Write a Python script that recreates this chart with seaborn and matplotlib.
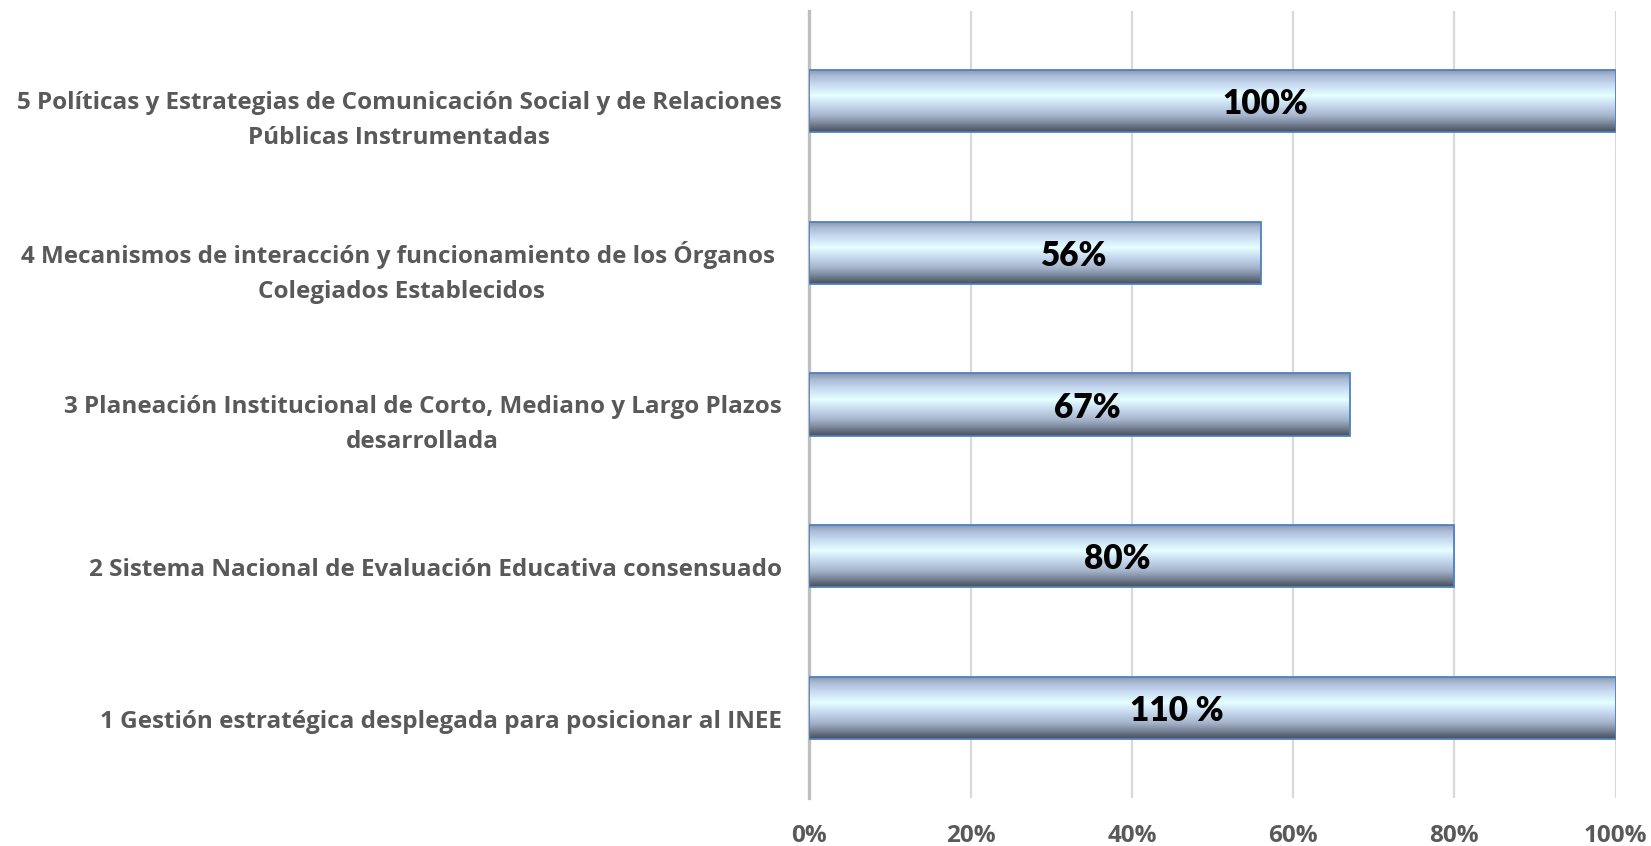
import numpy as np
import pandas as pd
import matplotlib
matplotlib.use("Agg")
import matplotlib.pyplot as plt
import seaborn as sns
from matplotlib.colors import LinearSegmentedColormap
from matplotlib.transforms import ScaledTranslation

# data, top to bottom as drawn
categories = [
    "5 Políticas y Estrategias de Comunicación Social y de Relaciones\nPúblicas Instrumentadas",
    "4 Mecanismos de interacción y funcionamiento de los Órganos \nColegiados Establecidos",
    "3 Planeación Institucional de Corto, Mediano y Largo Plazos\ndesarrollada",
    "2 Sistema Nacional de Evaluación Educativa consensuado",
    "1 Gestión estratégica desplegada para posicionar al INEE",
]
values = [1.00, 0.56, 0.67, 0.80, 1.10]
value_labels = ["100%", "56%", "67%", "80%", "110 %"]
label_x = [0.565, 0.328, 0.345, 0.382, 0.456]
x_ticks = [0, 0.2, 0.4, 0.6, 0.8, 1.0]
x_ticklabels = ["0%", "20%", "40%", "60%", "80%", "100%"]

df = pd.DataFrame({"cat": categories, "val": np.minimum(values, 1.0)})

sns.set_theme(style="white")
plt.rcParams["font.family"] = ["Lato", "DejaVu Sans"]

fig = plt.figure(figsize=(16.51, 8.46), dpi=100)
ax = fig.add_axes([0.4903, 0.0567, 0.4883, 0.9303])

sns.barplot(data=df, x="val", y="cat", orient="h", width=0.41,
            color="#c6d9f1", edgecolor="#4f81bd", linewidth=1.3, ax=ax, zorder=3)

# glassy vertical gradient fill, clipped to each bar
cmap = LinearSegmentedColormap.from_list("bar", [
    (0.00, "#8593ad"),
    (0.10, "#a9b9d3"),
    (0.25, "#c9dcf3"),
    (0.42, "#e6ffff"),
    (0.58, "#c6d8ee"),
    (0.75, "#a3b2c9"),
    (0.90, "#6c7789"),
    (1.00, "#474d58"),
])
grad = np.linspace(0, 1, 256).reshape(-1, 1)
for p in ax.patches:
    x0, y0 = p.get_x(), p.get_y()
    w, h = p.get_width(), p.get_height()
    im = ax.imshow(grad, cmap=cmap, aspect="auto",
                   extent=[x0, x0 + w, y0 + h, y0], zorder=3.5)
    im.set_clip_path(p)
    p.set_zorder(4)
    p.set_facecolor("none")

for i, (lx, txt) in enumerate(zip(label_x, value_labels)):
    ax.text(lx, i + 0.02, txt, ha="center", va="center", fontsize=24,
            fontweight="heavy", color="black", zorder=5)

ax.set_xlim(0, 1.0)
ax.set_ylim(4.593, -0.593)
ax.set_xticks(x_ticks)
ax.set_xticklabels(x_ticklabels)
ax.set_xlabel("")
ax.set_ylabel("")
ax.xaxis.grid(True, color="#d9d9d9", linewidth=1.6, zorder=0)
ax.set_axisbelow(True)
for s in ["top", "right", "bottom"]:
    ax.spines[s].set_visible(False)
ax.spines["left"].set_color("#bfbfbf")
ax.spines["left"].set_linewidth(2.4)
ax.tick_params(axis="both", length=0)
ax.tick_params(axis="x", pad=19, labelcolor="#595959")
ax.tick_params(axis="y", pad=20, labelcolor="#595959")
for t in ax.get_xticklabels():
    t.set_family(["Open Sans", "DejaVu Sans"])
    t.set_fontsize(17.5)
    t.set_fontweight("bold")
off = ScaledTranslation(0, -0.11, fig.dpi_scale_trans)
for t in ax.get_yticklabels():
    t.set_family(["Open Sans", "DejaVu Sans"])
    t.set_fontsize(17.5)
    t.set_fontweight("bold")
    t.set_multialignment("center")
    t.set_linespacing(1.62)
    t.set_transform(t.get_transform() + off)

fig.savefig("out.png", dpi=100)
